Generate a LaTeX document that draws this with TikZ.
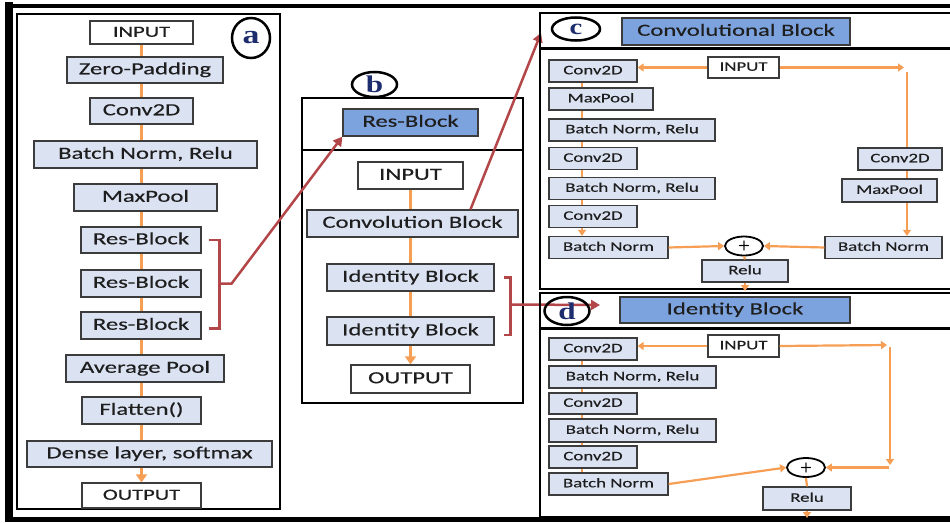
\documentclass[tikz,border=0pt]{standalone}
\usepackage{fontspec}
\usepackage{tikz}
\usetikzlibrary{arrows.meta,shapes.geometric,positioning}
\usepackage{xcolor}
\newfontfamily\boxfont[FakeStretch=1.45,FakeBold=0.4]{Carlito}
\newfontfamily\tagfont[FakeStretch=1.3]{Liberation Serif}
\definecolor{resfill}{RGB}{219,227,243}
\definecolor{reshead}{RGB}{125,163,222}
\definecolor{resorange}{RGB}{246,158,84}
\definecolor{resred}{RGB}{178,70,72}
\definecolor{resedge}{RGB}{60,60,60}
\definecolor{restag}{RGB}{30,45,110}
\definecolor{restext}{RGB}{30,30,30}

\tikzset{
  layer/.style={draw=resedge, line width=1.3pt, fill=resfill, inner sep=0pt, text=restext},
  io/.style={layer, fill=white},
  head/.style={layer, fill=reshead},
  lvA/.style={font=\boxfont\fontsize{17}{19}\selectfont, minimum height=26pt, text height=11.5pt, text depth=3pt},
  lvS/.style={lvA, font=\boxfont\fontsize{15.5}{17}\selectfont},
  lvC/.style={font=\boxfont\fontsize{13}{15}\selectfont, minimum height=22pt, text height=9pt, text depth=2.5pt},
  flow/.style={resorange, line width=3.5pt},
  flowarr/.style={flow, -{Triangle[length=8pt,width=11pt]}},
  flowC/.style={resorange, line width=2.2pt},
  flowCarr/.style={flowC, -{Triangle[length=6pt,width=8pt]}},
  link/.style={resred, line width=2.5pt},
  linkarr/.style={link, -{Triangle[length=9pt,width=10pt]}},
  tag/.style={ellipse, draw=black, line width=2.5pt, inner sep=0pt, text=restag,
    font=\tagfont\bfseries\fontsize{24}{24}\selectfont},
  plus/.style={ellipse, draw=black, line width=1.8pt, fill=white, inner sep=0pt,
    minimum width=38pt, minimum height=19pt, font=\sffamily\bfseries\fontsize{14}{14}\selectfont}
}

\begin{document}
\begin{tikzpicture}[x=1pt, y=-1pt]
  \useasboundingbox (0,0) rectangle (950,522);

  % panel a
  \draw[line width=1.3pt] (17,14) rectangle (280,509);
  \node[io, lvS, minimum width=103pt, minimum height=23pt] (inA) at (141.5,32.5) {INPUT};
  \node[layer, lvA, minimum width=156pt] (zpA) at (145,70) {Zero-Padding};
  \node[layer, lvA, minimum width=103pt] (cvA) at (141.5,111) {Conv2D};
  \node[layer, lvA, minimum width=223pt, minimum height=27pt] (bnA) at (145.5,154.5) {Batch Norm, Relu};
  \node[layer, lvA, minimum width=143pt, minimum height=27pt] (mpA) at (145.5,197.5) {MaxPool};
  \node[layer, lvA, minimum width=120pt] (rb1A) at (141,240) {Res-Block};
  \node[layer, lvA, minimum width=120pt, minimum height=27pt] (rb2A) at (141,283.5) {Res-Block};
  \node[layer, lvA, minimum width=120pt, minimum height=27pt] (rb3A) at (141,325.5) {Res-Block};
  \node[layer, lvA, minimum width=158pt, minimum height=27pt] (apA) at (145,368.5) {Average Pool};
  \node[layer, lvA, minimum width=119pt, minimum height=27pt] (flA) at (141.5,410.5) {Flatten()};
  \node[layer, lvA, minimum width=245pt] (dnA) at (149.5,454) {Dense layer, softmax};
  \node[io, lvS, minimum width=119pt, minimum height=25pt] (outA) at (141.5,495.5) {OUTPUT};
  \foreach \u/\v in {inA/zpA, zpA/cvA, cvA/bnA, bnA/mpA, mpA/rb1A, rb1A/rb2A, rb2A/rb3A, rb3A/apA, apA/flA, flA/dnA}
    \draw[flow] (\u.south -| inA) -- (\v.north -| inA);
  \draw[flowarr] (dnA.south -| inA) -- (outA.north -| inA);
  \node[tag, minimum width=38pt, minimum height=40pt, font=\tagfont\bfseries\fontsize{26}{26}\selectfont] (tgA) at (251,38) {a};

  % panel b
  \draw[line width=1.6pt] (302,98) rectangle (523,403);
  \draw[line width=1.6pt] (302,150) -- (523,150);
  \node[head, lvA, minimum width=135pt, minimum height=27pt] (rbB) at (410.5,122.5) {Res-Block};
  \node[io, lvA, minimum width=105pt, minimum height=27pt] (inB) at (410.5,175.5) {INPUT};
  \node[layer, lvA, minimum width=211pt, minimum height=27pt] (cbB) at (412.5,223.5) {Convolution Block};
  \node[layer, lvA, minimum width=167pt, minimum height=27pt] (ib1B) at (410.5,277.5) {Identity Block};
  \node[layer, lvA, minimum width=167pt, minimum height=28pt] (ib2B) at (410.5,331) {Identity Block};
  \node[io, lvA, minimum width=119pt, minimum height=28pt] (outB) at (410.5,379) {OUTPUT};
  \foreach \u/\v in {inB/cbB, cbB/ib1B, ib1B/ib2B}
    \draw[flow] (\u.south -| inB) -- (\v.north -| inB);
  \draw[flowarr] (ib2B.south -| inB) -- (outB.north -| inB);
  \node[tag, minimum width=45pt, minimum height=25pt] (tgB) at (374.5,84.5) {b};

  % red links between panels
  \coordinate (tipC) at (541,33); \coordinate (tipD) at (600,305);
  \draw[link] ([xshift=7pt]rb1A.east) -- ++(11,0) |- ([xshift=7pt,yshift=-3pt]rb3A.east);
  \draw[linkarr] ([xshift=18pt]rb2A.east) -- ++(12,0) -- (rbB.south west);
  \draw[linkarr] ([xshift=58pt]cbB.north) -- (tipC);
  \draw[link] ([xshift=9pt]ib1B.east) -- ++(7,0) |- ([xshift=9pt,yshift=-4pt]ib2B.east);
  \draw[linkarr] ([xshift=16pt,yshift=-27pt]ib1B.east) -- (tipD);

  % outer frame
  \draw[line width=4pt] (5,6) -- (960,6);
  \draw[line width=5pt] (5,519.5) -- (960,519.5);
  \draw[line width=8pt] (9,2) -- (9,522);

  % panel c
  \draw[line width=1.6pt] (540,13) rectangle (960,289);
  \draw[line width=3pt] (540,48) -- (960,48);
  \node[head, lvA, minimum width=228pt, minimum height=27pt] (hdC) at (736,31.5) {Convolutional Block};
  \node[io, lvC, minimum width=71pt, minimum height=21pt] (inC) at (743.5,67.5) {INPUT};
  \node[layer, lvC, minimum width=88pt] (c1C) at (593,71) {Conv2D};
  \node[layer, lvC, minimum width=104pt] (mpC) at (601,99) {MaxPool};
  \node[layer, lvC, minimum width=166pt] (b1C) at (632,130) {Batch Norm, Relu};
  \node[layer, lvC, minimum width=88pt] (c2C) at (593,158.5) {Conv2D};
  \node[layer, lvC, minimum width=166pt] (b2C) at (632,188.5) {Batch Norm, Relu};
  \node[layer, lvC, minimum width=88pt] (c3C) at (593,216.5) {Conv2D};
  \node[layer, lvC, minimum width=119pt] (bnC) at (608.5,247.5) {Batch Norm};
  \node[plus] (plC) at (744,246) {+};
  \node[layer, lvC, minimum width=86pt] (reC) at (745,271) {Relu};
  \node[layer, lvC, minimum width=84pt] (rc1C) at (900,159) {Conv2D};
  \node[layer, lvC, minimum width=95pt, minimum height=23pt] (rmpC) at (889.5,190.5) {MaxPool};
  \node[layer, lvC, minimum width=117pt] (rbnC) at (883.5,247.5) {Batch Norm};
  \coordinate (lineC) at (582,0); \coordinate (cnC) at (904,67.5);
  \coordinate (vtC) at (907,72); \coordinate (endC) at (745,291);
  \foreach \u/\v in {c1C/mpC, mpC/b1C, b1C/c2C, c2C/b2C, b2C/c3C}
    \draw[flowC] (\u.south -| lineC) -- (\v.north -| lineC);
  \draw[flowCarr] (c3C.south -| lineC) -- (bnC.north -| lineC);
  \draw[flowCarr] (inC.west) -- (inC.west -| c1C.east);
  \draw[flowCarr] (inC.east) -- (cnC);
  \draw[flowC] (vtC) -- (vtC |- rc1C.north);
  \draw[flowC] (rc1C.south -| vtC) -- (rmpC.north -| vtC);
  \draw[flowCarr] (rmpC.south -| vtC) -- (rbnC.north -| vtC);
  \draw[flowCarr] (rbnC.west) -- (plC.east);
  \draw[flowCarr] (bnC.east) -- (plC.west);
  \draw[flowC] (plC.south) -- (reC.north);
  \draw[flowCarr] (reC.south) -- (endC);
  \node[tag, minimum width=48pt, minimum height=23pt, font=\tagfont\bfseries\fontsize{22}{22}\selectfont] (tgC) at (576,29) {c};

  % panel d
  \draw[line width=1.6pt] (540,293) rectangle (960,517);
  \draw[line width=3pt] (540,328) -- (960,328);
  \node[head, lvA, minimum width=230pt] (hdD) at (735,310) {Identity Block};
  \node[io, lvC, minimum width=71pt] (inD) at (743.5,346) {INPUT};
  \node[layer, lvC, minimum width=88pt] (c1D) at (593,349) {Conv2D};
  \node[layer, lvC, minimum width=167pt] (b1D) at (632.5,377) {Batch Norm, Relu};
  \node[layer, lvC, minimum width=88pt, minimum height=21pt] (c2D) at (593,403.5) {Conv2D};
  \node[layer, lvC, minimum width=167pt, minimum height=23pt] (b2D) at (632.5,430.5) {Batch Norm, Relu};
  \node[layer, lvC, minimum width=88pt] (c3D) at (593,457) {Conv2D};
  \node[layer, lvC, minimum width=119pt] (bnD) at (608.5,484) {Batch Norm};
  \node[plus] (plD) at (806,467.5) {+};
  \node[layer, lvC, minimum width=88pt, minimum height=23pt] (reD) at (807,498.5) {Relu};
  \coordinate (lineD) at (582,0); \coordinate (cn1D) at (887,345);
  \coordinate (vt1D) at (890,347); \coordinate (vt2D) at (890,465);
  \coordinate (cn2D) at (889,467.5); \coordinate (endD) at (807,518);
  \foreach \u/\v in {c1D/b1D, b1D/c2D, c2D/b2D, b2D/c3D, c3D/bnD}
    \draw[flowC] (\u.south -| lineD) -- (\v.north -| lineD);
  \draw[flowCarr] (inD.west) -- (inD.west -| c1D.east);
  \draw[flowCarr] (inD.east) -- (cn1D);
  \draw[flowCarr] (vt1D) -- (vt2D);
  \draw[flowCarr] (cn2D) -- (plD.east);
  \draw[flowCarr] (bnD.east) -- (plD.west);
  \draw[flowC] (plD.south) -- (reD.north);
  \draw[flowCarr] (reD.south) -- (endD);
  \node[tag, minimum width=45pt, minimum height=28pt] (tgD) at (567,311) {d};
\end{tikzpicture}
\end{document}
